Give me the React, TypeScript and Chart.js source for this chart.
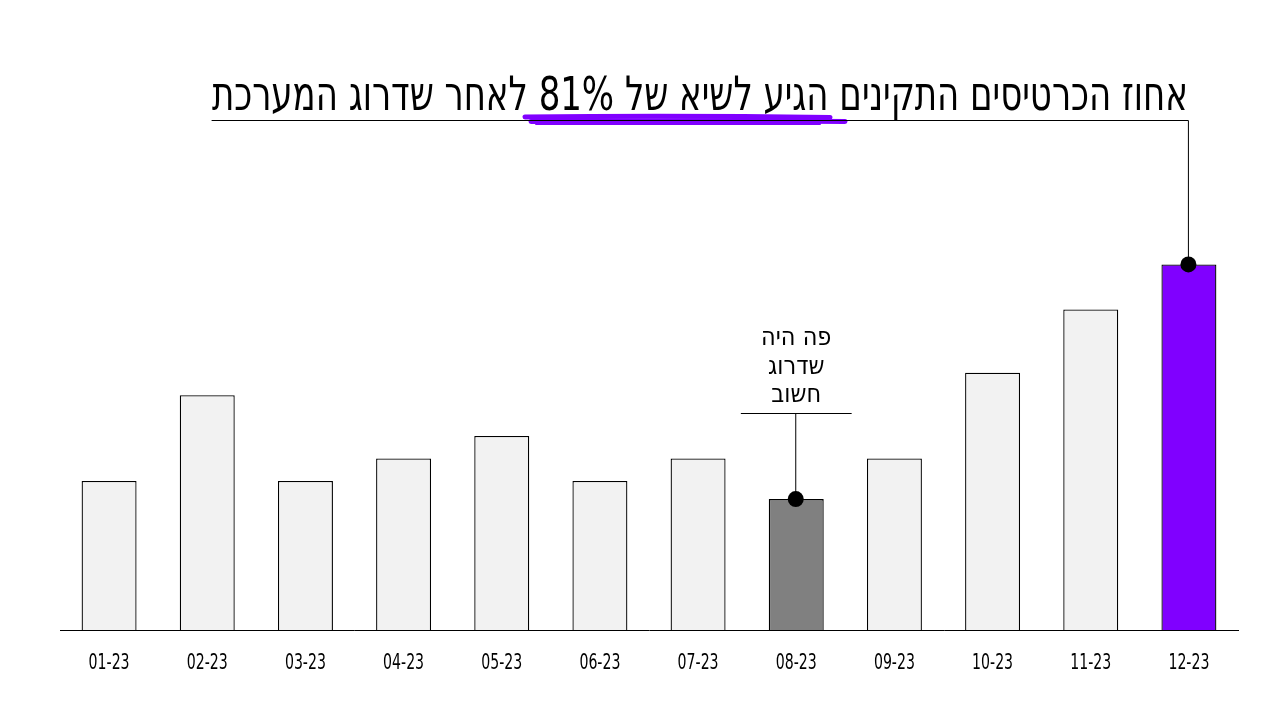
import { Chart, registerables } from "chart.js";
import { useEffect, useRef } from "react";

Chart.register(...registerables);

const months = ["01-23", "02-23", "03-23", "04-23", "05-23", "06-23", "07-23", "08-23", "09-23", "10-23", "11-23", "12-23"];
const workingTickets = [33, 52, 33, 38, 43, 33, 38, 29, 38, 57, 71, 81];
const upgradeMonth = "08-23";
const peakMonth = "12-23";
const titleText = "אחוז הכרטיסים התקינים הגיע לשיא של 81% לאחר שדרוג המערכת";
const noteLines = ["פה היה", "שדרוג", "חשוב"];

const FONT = '"Liberation Sans Narrow", "DejaVu Sans Condensed", "Noto Sans", sans-serif';

const storyPlugin = {
  id: "story",
  afterDatasetsDraw(chart: any) {
    const { ctx } = chart;
    const meta = chart.getDatasetMeta(0);
    const xScale = chart.scales.x;
    const peak = meta.data[months.indexOf(peakMonth)];
    const upgrade = meta.data[months.indexOf(upgradeMonth)];
    ctx.save();

    // month labels, squeezed like the condensed original
    ctx.fillStyle = "#000";
    ctx.textAlign = "center";
    ctx.textBaseline = "middle";
    ctx.font = `21px ${FONT}`;
    months.forEach((m, i) => {
      ctx.fillText(m, xScale.getPixelForValue(i), 664, 41);
    });

    // title
    ctx.direction = "rtl";
    ctx.textAlign = "right";
    ctx.textBaseline = "alphabetic";
    ctx.font = `47px ${FONT}`;
    ctx.fillText(titleText, peak.x - 1, 110, 976);

    // purple scribble under the key number
    ctx.strokeStyle = "#8000ff";
    ctx.lineCap = "round";
    ctx.lineWidth = 5;
    ctx.beginPath();
    ctx.moveTo(525, 117);
    ctx.quadraticCurveTo(680, 115.5, 830, 117.5);
    ctx.stroke();
    ctx.beginPath();
    ctx.moveTo(531, 121.5);
    ctx.quadraticCurveTo(690, 120, 845, 121.5);
    ctx.stroke();
    ctx.lineWidth = 2;
    ctx.beginPath();
    ctx.moveTo(536, 124);
    ctx.quadraticCurveTo(680, 123.5, 820, 124);
    ctx.stroke();

    // title leader line to the peak bar
    ctx.strokeStyle = "#000";
    ctx.lineWidth = 1;
    ctx.beginPath();
    ctx.moveTo(212, 120.5);
    ctx.lineTo(peak.x - 0.5, 120.5);
    ctx.lineTo(peak.x - 0.5, peak.y);
    ctx.stroke();

    // note above the upgrade bar
    const lineY = 413.5;
    ctx.beginPath();
    ctx.moveTo(upgrade.x - 55, lineY);
    ctx.lineTo(upgrade.x + 55, lineY);
    ctx.moveTo(upgrade.x - 0.5, lineY);
    ctx.lineTo(upgrade.x - 0.5, upgrade.y);
    ctx.stroke();

    ctx.textAlign = "center";
    ctx.font = `25px ${FONT}`;
    noteLines.forEach((line, i) => {
      ctx.fillText(line, upgrade.x, 345 + i * 28.5, 72);
    });

    // dots
    [peak, upgrade].forEach((bar: any) => {
      ctx.beginPath();
      ctx.arc(bar.x - 0.5, bar.y, 8, 0, Math.PI * 2);
      ctx.fillStyle = "#000";
      ctx.fill();
    });
    ctx.restore();
  },
};

const App = () => {
  const chartRef = useRef<HTMLCanvasElement>(null);
  const chartInstance = useRef<Chart | null>(null);

  useEffect(() => {
    const canvas = chartRef.current;
    if (!canvas) return;
    const ctx = canvas.getContext("2d");
    if (!ctx) return;
    if (chartInstance.current) chartInstance.current.destroy();

    chartInstance.current = new Chart(ctx, {
      type: "bar",
      data: {
        labels: months,
        datasets: [
          {
            data: workingTickets,
            backgroundColor: months.map((m) =>
              m === peakMonth ? "#8000ff" : m === upgradeMonth ? "#808080" : "#f2f2f2"
            ),
            borderColor: "#000",
            borderWidth: 1.3,
            barPercentage: 0.56,
            categoryPercentage: 1,
          },
        ],
      },
      options: {
        responsive: true,
        maintainAspectRatio: false,
        animation: false,
        layout: { padding: { top: 120, left: 60, right: 42, bottom: 90 } },
        plugins: { legend: { display: false }, tooltip: { enabled: false } },
        scales: {
          y: { display: false, min: 0, max: 113 },
          x: {
            grid: { display: false, drawTicks: false },
            border: { display: true, color: "#000", width: 1 },
            ticks: { display: false },
          },
        },
      },
      plugins: [storyPlugin],
    });

    return () => {
      if (chartInstance.current) chartInstance.current.destroy();
    };
  }, []);

  return (
    <div style={{ position: "fixed", left: 0, top: 0, width: 1280, height: 720, background: "#fff" }}>
      <canvas ref={chartRef} />
    </div>
  );
};

export default App;
